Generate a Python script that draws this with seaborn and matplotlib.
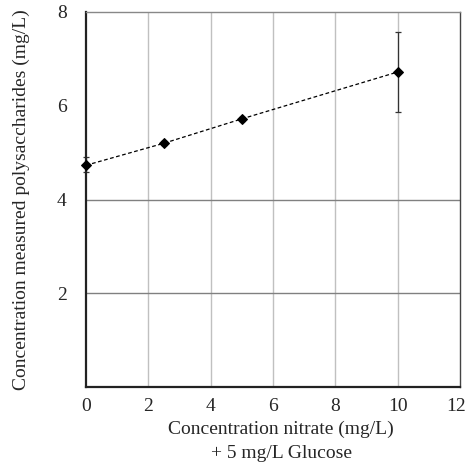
import matplotlib
matplotlib.use("Agg")
import matplotlib.pyplot as plt
import matplotlib.transforms as mtransforms
import seaborn as sns
import pandas as pd

nitrate = [0, 2.5, 5, 10]
polysaccharides = [4.73, 5.20, 5.72, 6.72]
err_low = [0.15, 0.04, 0.04, 0.86]
err_high = [0.17, 0.04, 0.04, 0.86]
x_ticks = [0, 2, 4, 6, 8, 10, 12]
y_ticks = [2, 4, 6, 8]

sns.set_style("white")
plt.rcParams['font.family'] = ['Liberation Serif', 'DejaVu Serif']

df = pd.DataFrame({"x": nitrate, "y": polysaccharides})

fig = plt.figure(figsize=(4.65, 4.62), dpi=100)
ax = fig.add_axes([86/465, 75/462, 374/465, 375/462])

for xv in [2, 4, 6, 8, 10]:
    ax.axvline(xv, color="#c0c0c0", lw=1, zorder=0)
for yv in [2, 4]:
    ax.axhline(yv, color="#808080", lw=1, zorder=0)

ax.errorbar(nitrate, polysaccharides, yerr=[err_low, err_high], fmt="none",
            ecolor="#333333", elinewidth=0.9, capsize=2.5, capthick=0.9, zorder=2,
            clip_on=False)
sns.lineplot(data=df, x="x", y="y", ax=ax, color="black", lw=0.9,
             linestyle=(0, (3, 2)), marker="D", markersize=5,
             markerfacecolor="black", markeredgecolor="black", zorder=3,
             clip_on=False)

ax.set_xlim(0, 12)
ax.set_ylim(0, 8)
ax.set_xticks(x_ticks)
ax.set_yticks(y_ticks)
ax.tick_params(axis="x", length=0, labelsize=14, pad=8)
ax.tick_params(axis="y", length=0, labelsize=14, pad=14)
lbls = ax.get_xticklabels()
lbls[-1].set_transform(lbls[-1].get_transform() +
                       mtransforms.ScaledTranslation(-4/100, 0, fig.dpi_scale_trans))
ax.set_xlabel("Concentration nitrate (mg/L)\n+ 5 mg/L Glucose", fontsize=14,
              linespacing=1.5)
ax.set_ylabel("Concentration measured polysaccharides (mg/L)", fontsize=14)
ax.xaxis.set_label_coords(0.522, -0.09, transform=ax.transAxes)
ax.xaxis.label.set_va("top")
ax.yaxis.set_label_coords(-(86 - 21) / 374, 0.5, transform=ax.transAxes)
ax.yaxis.label.set_va("center")

for s in ["left", "bottom"]:
    ax.spines[s].set_color("#222222")
    ax.spines[s].set_linewidth(1.6)
ax.spines["right"].set_color("#444444")
ax.spines["right"].set_linewidth(1.0)
ax.spines["top"].set_color("#888888")
ax.spines["top"].set_linewidth(1.0)

fig.savefig("out.png", dpi=100)
